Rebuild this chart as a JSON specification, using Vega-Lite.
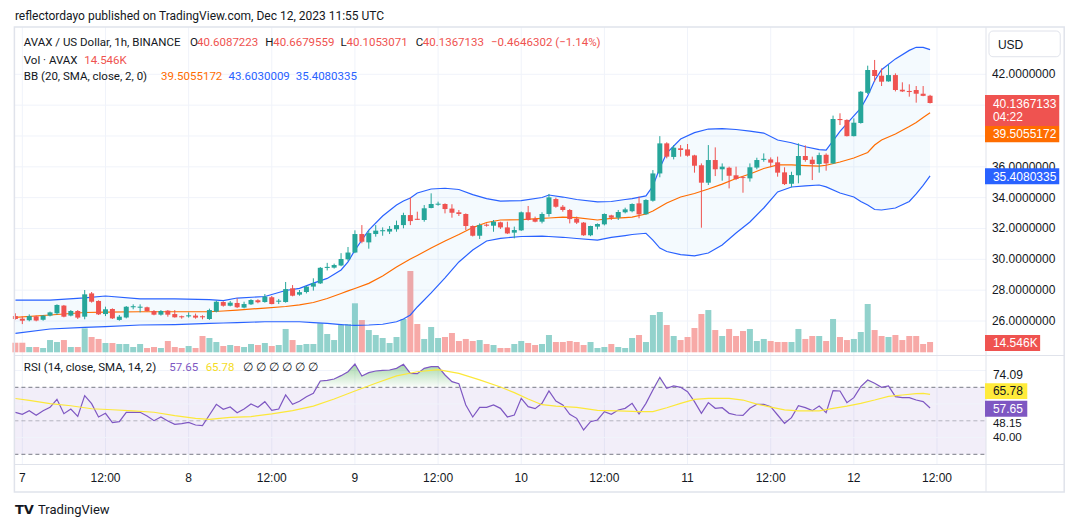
{
  "$schema": "https://vega.github.io/schema/vega-lite/v6.json",
  "width": 991,
  "height": 464,
  "padding": {"left": 0, "top": 0, "right": 89, "bottom": 63},
  "autosize": {"type": "none"},
  "background": "#ffffff",
  "config": {"view": {"stroke": null}, "font": "Liberation Sans"},
  "data": {"values": [{}]},
  "datasets": {
    "bars": [
      {"t":"2023-12-06T23:00Z","o":26.32,"h":26.5,"l":26.09,"c":26.13,"v":13.5},
      {"t":"2023-12-07T00:00Z","o":26.15,"h":26.3,"l":25.8,"c":26.02,"v":13.5},
      {"t":"2023-12-07T01:00Z","o":26.05,"h":26.43,"l":25.98,"c":26.32,"v":7.5},
      {"t":"2023-12-07T02:00Z","o":26.3,"h":26.35,"l":25.98,"c":26.03,"v":7.5},
      {"t":"2023-12-07T03:00Z","o":26.08,"h":26.39,"l":26.02,"c":26.35,"v":6.1},
      {"t":"2023-12-07T04:00Z","o":26.35,"h":26.61,"l":26.3,"c":26.56,"v":17.3},
      {"t":"2023-12-07T05:00Z","o":26.5,"h":27.08,"l":26.4,"c":27.04,"v":14.5},
      {"t":"2023-12-07T06:00Z","o":27.0,"h":27.04,"l":26.24,"c":26.28,"v":17.3},
      {"t":"2023-12-07T07:00Z","o":26.35,"h":26.71,"l":26.3,"c":26.65,"v":7.5},
      {"t":"2023-12-07T08:00Z","o":26.65,"h":26.71,"l":26.13,"c":26.22,"v":7.5},
      {"t":"2023-12-07T09:00Z","o":26.28,"h":28.01,"l":26.11,"c":27.73,"v":33.8},
      {"t":"2023-12-07T10:00Z","o":27.79,"h":27.88,"l":27.19,"c":27.25,"v":21.6},
      {"t":"2023-12-07T11:00Z","o":27.3,"h":27.34,"l":26.39,"c":26.43,"v":18.8},
      {"t":"2023-12-07T12:00Z","o":26.45,"h":26.93,"l":26.32,"c":26.76,"v":13.1},
      {"t":"2023-12-07T13:00Z","o":26.78,"h":26.82,"l":26.13,"c":26.17,"v":13.1},
      {"t":"2023-12-07T14:00Z","o":26.07,"h":26.39,"l":26.02,"c":26.28,"v":11.7},
      {"t":"2023-12-07T15:00Z","o":26.22,"h":26.97,"l":26.17,"c":26.93,"v":11.7},
      {"t":"2023-12-07T16:00Z","o":26.89,"h":27.08,"l":26.76,"c":26.96,"v":7.5},
      {"t":"2023-12-07T17:00Z","o":26.86,"h":27.08,"l":26.56,"c":26.93,"v":11.7},
      {"t":"2023-12-07T18:00Z","o":26.89,"h":26.93,"l":26.61,"c":26.65,"v":6.1},
      {"t":"2023-12-07T19:00Z","o":26.65,"h":26.71,"l":26.37,"c":26.41,"v":7.5},
      {"t":"2023-12-07T20:00Z","o":26.41,"h":26.71,"l":26.35,"c":26.65,"v":6.1},
      {"t":"2023-12-07T21:00Z","o":26.67,"h":26.71,"l":26.28,"c":26.41,"v":15.9},
      {"t":"2023-12-07T22:00Z","o":26.45,"h":26.71,"l":26.22,"c":26.24,"v":7.5},
      {"t":"2023-12-07T23:00Z","o":26.31,"h":26.35,"l":26.15,"c":26.24,"v":6.1},
      {"t":"2023-12-08T00:00Z","o":26.3,"h":26.56,"l":26.22,"c":26.37,"v":8.9},
      {"t":"2023-12-08T01:00Z","o":26.35,"h":26.48,"l":26.15,"c":26.22,"v":6.1},
      {"t":"2023-12-08T02:00Z","o":26.31,"h":26.37,"l":26.11,"c":26.24,"v":23.0},
      {"t":"2023-12-08T03:00Z","o":26.13,"h":26.8,"l":26.07,"c":26.71,"v":20.2},
      {"t":"2023-12-08T04:00Z","o":26.61,"h":27.32,"l":26.56,"c":27.25,"v":14.5},
      {"t":"2023-12-08T05:00Z","o":27.23,"h":27.28,"l":26.93,"c":26.99,"v":8.9},
      {"t":"2023-12-08T06:00Z","o":26.99,"h":27.3,"l":26.95,"c":27.19,"v":10.3},
      {"t":"2023-12-08T07:00Z","o":27.17,"h":27.47,"l":26.84,"c":26.89,"v":8.9},
      {"t":"2023-12-08T08:00Z","o":26.87,"h":27.25,"l":26.82,"c":27.1,"v":7.5},
      {"t":"2023-12-08T09:00Z","o":27.08,"h":27.41,"l":27.04,"c":27.36,"v":11.7},
      {"t":"2023-12-08T10:00Z","o":27.34,"h":27.41,"l":27.15,"c":27.21,"v":10.3},
      {"t":"2023-12-08T11:00Z","o":27.23,"h":27.75,"l":27.19,"c":27.58,"v":13.1},
      {"t":"2023-12-08T12:00Z","o":27.54,"h":27.62,"l":27.08,"c":27.1,"v":8.9},
      {"t":"2023-12-08T13:00Z","o":27.25,"h":27.43,"l":27.1,"c":27.32,"v":10.3},
      {"t":"2023-12-08T14:00Z","o":27.23,"h":28.53,"l":27.19,"c":28.07,"v":32.9},
      {"t":"2023-12-08T15:00Z","o":28.12,"h":28.33,"l":27.6,"c":27.64,"v":17.3},
      {"t":"2023-12-08T16:00Z","o":27.71,"h":28.01,"l":27.64,"c":27.87,"v":10.3},
      {"t":"2023-12-08T17:00Z","o":27.88,"h":28.29,"l":27.79,"c":28.23,"v":11.7},
      {"t":"2023-12-08T18:00Z","o":28.23,"h":28.77,"l":27.97,"c":28.45,"v":11.7},
      {"t":"2023-12-08T19:00Z","o":28.44,"h":29.5,"l":28.4,"c":29.45,"v":41.0},
      {"t":"2023-12-08T20:00Z","o":29.44,"h":29.77,"l":29.28,"c":29.51,"v":25.8},
      {"t":"2023-12-08T21:00Z","o":29.46,"h":29.72,"l":29.4,"c":29.63,"v":17.3},
      {"t":"2023-12-08T22:00Z","o":29.6,"h":30.4,"l":29.55,"c":30.02,"v":38.5},
      {"t":"2023-12-08T23:00Z","o":30.0,"h":30.8,"l":29.9,"c":30.44,"v":39.9},
      {"t":"2023-12-09T00:00Z","o":30.44,"h":31.88,"l":30.4,"c":31.64,"v":69.1},
      {"t":"2023-12-09T01:00Z","o":31.64,"h":32.22,"l":31.04,"c":31.14,"v":45.5},
      {"t":"2023-12-09T02:00Z","o":31.1,"h":31.9,"l":30.69,"c":31.7,"v":31.4},
      {"t":"2023-12-09T03:00Z","o":31.64,"h":32.22,"l":31.47,"c":31.86,"v":24.4},
      {"t":"2023-12-09T04:00Z","o":31.82,"h":32.07,"l":31.53,"c":31.89,"v":20.2},
      {"t":"2023-12-09T05:00Z","o":31.8,"h":32.16,"l":31.64,"c":31.97,"v":13.1},
      {"t":"2023-12-09T06:00Z","o":31.95,"h":32.51,"l":31.79,"c":32.22,"v":21.6},
      {"t":"2023-12-09T07:00Z","o":32.22,"h":33.02,"l":32.01,"c":32.87,"v":47.0},
      {"t":"2023-12-09T08:00Z","o":32.87,"h":34.02,"l":32.22,"c":32.48,"v":114.6},
      {"t":"2023-12-09T09:00Z","o":32.63,"h":33.09,"l":32.55,"c":32.56,"v":39.9},
      {"t":"2023-12-09T10:00Z","o":32.55,"h":33.52,"l":32.44,"c":33.31,"v":18.8},
      {"t":"2023-12-09T11:00Z","o":33.33,"h":34.28,"l":33.31,"c":33.59,"v":35.7},
      {"t":"2023-12-09T12:00Z","o":33.54,"h":33.74,"l":33.48,"c":33.61,"v":20.2},
      {"t":"2023-12-09T13:00Z","o":33.59,"h":33.63,"l":32.98,"c":33.26,"v":21.6},
      {"t":"2023-12-09T14:00Z","o":33.29,"h":33.57,"l":32.7,"c":33.02,"v":27.2},
      {"t":"2023-12-09T15:00Z","o":33.05,"h":33.2,"l":32.81,"c":32.94,"v":15.9},
      {"t":"2023-12-09T16:00Z","o":32.94,"h":32.98,"l":31.9,"c":32.16,"v":18.8},
      {"t":"2023-12-09T17:00Z","o":32.16,"h":32.2,"l":31.48,"c":31.53,"v":15.9},
      {"t":"2023-12-09T18:00Z","o":31.53,"h":32.33,"l":31.32,"c":32.22,"v":17.3},
      {"t":"2023-12-09T19:00Z","o":32.25,"h":32.33,"l":32.12,"c":32.18,"v":11.7},
      {"t":"2023-12-09T20:00Z","o":32.18,"h":32.55,"l":31.79,"c":32.44,"v":10.3},
      {"t":"2023-12-09T21:00Z","o":32.4,"h":32.44,"l":31.97,"c":32.07,"v":6.1},
      {"t":"2023-12-09T22:00Z","o":32.07,"h":32.44,"l":31.64,"c":31.68,"v":6.1},
      {"t":"2023-12-09T23:00Z","o":31.73,"h":32.12,"l":31.36,"c":31.9,"v":11.7},
      {"t":"2023-12-10T00:00Z","o":31.88,"h":33.1,"l":31.84,"c":33.05,"v":15.9},
      {"t":"2023-12-10T01:00Z","o":33.05,"h":33.46,"l":32.51,"c":32.55,"v":13.1},
      {"t":"2023-12-10T02:00Z","o":32.62,"h":32.77,"l":32.4,"c":32.44,"v":10.3},
      {"t":"2023-12-10T03:00Z","o":32.44,"h":33.05,"l":32.33,"c":32.94,"v":11.7},
      {"t":"2023-12-10T04:00Z","o":32.94,"h":34.24,"l":32.77,"c":34.02,"v":24.4},
      {"t":"2023-12-10T05:00Z","o":33.91,"h":34.0,"l":33.35,"c":33.41,"v":14.5},
      {"t":"2023-12-10T06:00Z","o":33.41,"h":33.52,"l":33.09,"c":33.2,"v":14.5},
      {"t":"2023-12-10T07:00Z","o":33.2,"h":33.26,"l":32.33,"c":32.61,"v":15.9},
      {"t":"2023-12-10T08:00Z","o":32.64,"h":32.77,"l":32.29,"c":32.38,"v":14.5},
      {"t":"2023-12-10T09:00Z","o":32.38,"h":32.42,"l":31.52,"c":31.56,"v":10.3},
      {"t":"2023-12-10T10:00Z","o":31.56,"h":32.18,"l":31.5,"c":32.16,"v":14.5},
      {"t":"2023-12-10T11:00Z","o":32.12,"h":32.33,"l":31.94,"c":32.29,"v":6.1},
      {"t":"2023-12-10T12:00Z","o":32.27,"h":32.98,"l":32.2,"c":32.94,"v":7.5},
      {"t":"2023-12-10T13:00Z","o":32.85,"h":32.89,"l":32.55,"c":32.7,"v":11.7},
      {"t":"2023-12-10T14:00Z","o":32.7,"h":33.2,"l":32.55,"c":33.07,"v":7.5},
      {"t":"2023-12-10T15:00Z","o":33.05,"h":33.35,"l":32.98,"c":33.24,"v":6.1},
      {"t":"2023-12-10T16:00Z","o":33.12,"h":33.63,"l":33.05,"c":33.59,"v":20.2},
      {"t":"2023-12-10T17:00Z","o":33.63,"h":34.06,"l":32.66,"c":32.92,"v":24.4},
      {"t":"2023-12-10T18:00Z","o":32.92,"h":33.9,"l":32.9,"c":33.85,"v":14.5},
      {"t":"2023-12-10T19:00Z","o":33.8,"h":35.79,"l":33.74,"c":35.57,"v":52.6},
      {"t":"2023-12-10T20:00Z","o":35.57,"h":37.99,"l":35.32,"c":37.52,"v":56.8},
      {"t":"2023-12-10T21:00Z","o":37.52,"h":37.59,"l":36.55,"c":36.66,"v":38.5},
      {"t":"2023-12-10T22:00Z","o":36.64,"h":37.41,"l":36.48,"c":37.24,"v":23.0},
      {"t":"2023-12-10T23:00Z","o":37.2,"h":37.41,"l":36.66,"c":37.09,"v":17.3},
      {"t":"2023-12-11T00:00Z","o":37.13,"h":37.48,"l":36.66,"c":36.72,"v":21.6},
      {"t":"2023-12-11T01:00Z","o":36.74,"h":36.78,"l":35.62,"c":36.07,"v":34.3},
      {"t":"2023-12-11T02:00Z","o":36.1,"h":36.22,"l":32.05,"c":34.97,"v":54.0},
      {"t":"2023-12-11T03:00Z","o":34.97,"h":37.41,"l":34.82,"c":36.44,"v":59.6},
      {"t":"2023-12-11T04:00Z","o":36.44,"h":37.26,"l":35.4,"c":35.84,"v":31.4},
      {"t":"2023-12-11T05:00Z","o":35.84,"h":36.22,"l":35.1,"c":36.01,"v":23.0},
      {"t":"2023-12-11T06:00Z","o":35.94,"h":36.01,"l":34.6,"c":35.42,"v":32.9},
      {"t":"2023-12-11T07:00Z","o":35.45,"h":36.01,"l":35.14,"c":35.21,"v":23.0},
      {"t":"2023-12-11T08:00Z","o":35.33,"h":35.4,"l":34.32,"c":35.27,"v":30.0},
      {"t":"2023-12-11T09:00Z","o":35.25,"h":36.22,"l":35.04,"c":35.97,"v":32.9},
      {"t":"2023-12-11T10:00Z","o":35.95,"h":36.59,"l":35.84,"c":36.44,"v":15.9},
      {"t":"2023-12-11T11:00Z","o":36.45,"h":36.87,"l":36.33,"c":36.52,"v":18.8},
      {"t":"2023-12-11T12:00Z","o":36.48,"h":36.61,"l":35.97,"c":36.27,"v":15.9},
      {"t":"2023-12-11T13:00Z","o":36.29,"h":36.66,"l":35.36,"c":35.62,"v":14.5},
      {"t":"2023-12-11T14:00Z","o":35.64,"h":35.97,"l":34.82,"c":34.88,"v":14.5},
      {"t":"2023-12-11T15:00Z","o":34.9,"h":35.68,"l":34.67,"c":35.47,"v":14.5},
      {"t":"2023-12-11T16:00Z","o":35.45,"h":37.52,"l":34.93,"c":36.7,"v":32.9},
      {"t":"2023-12-11T17:00Z","o":36.7,"h":37.39,"l":36.33,"c":36.44,"v":18.8},
      {"t":"2023-12-11T18:00Z","o":36.46,"h":36.66,"l":35.14,"c":36.18,"v":23.0},
      {"t":"2023-12-11T19:00Z","o":36.18,"h":36.92,"l":35.62,"c":36.76,"v":23.0},
      {"t":"2023-12-11T20:00Z","o":36.78,"h":36.87,"l":35.75,"c":36.22,"v":15.9},
      {"t":"2023-12-11T21:00Z","o":36.22,"h":39.32,"l":36.18,"c":39.1,"v":47.0},
      {"t":"2023-12-11T22:00Z","o":39.1,"h":39.47,"l":38.71,"c":39.03,"v":21.6},
      {"t":"2023-12-11T23:00Z","o":39.04,"h":39.08,"l":37.97,"c":37.99,"v":17.3},
      {"t":"2023-12-12T00:00Z","o":37.99,"h":39.14,"l":37.97,"c":38.86,"v":18.8},
      {"t":"2023-12-12T01:00Z","o":38.84,"h":40.91,"l":38.8,"c":40.87,"v":28.6},
      {"t":"2023-12-12T02:00Z","o":40.8,"h":42.56,"l":40.72,"c":42.28,"v":68.1},
      {"t":"2023-12-12T03:00Z","o":42.28,"h":42.93,"l":41.52,"c":41.89,"v":31.4},
      {"t":"2023-12-12T04:00Z","o":41.91,"h":42.38,"l":41.24,"c":41.52,"v":23.0},
      {"t":"2023-12-12T05:00Z","o":41.54,"h":42.6,"l":41.52,"c":41.95,"v":21.6},
      {"t":"2023-12-12T06:00Z","o":41.95,"h":42.06,"l":40.89,"c":40.98,"v":24.4},
      {"t":"2023-12-12T07:00Z","o":41.0,"h":41.48,"l":40.85,"c":40.89,"v":17.3},
      {"t":"2023-12-12T08:00Z","o":40.92,"h":41.35,"l":40.55,"c":40.85,"v":23.0},
      {"t":"2023-12-12T09:00Z","o":40.98,"h":41.24,"l":40.16,"c":40.74,"v":23.0},
      {"t":"2023-12-12T10:00Z","o":40.74,"h":41.24,"l":40.58,"c":40.6013435,"v":11.7},
      {"t":"2023-12-12T11:00Z","o":40.6087223,"h":40.6679559,"l":40.1053071,"c":40.1367133,"v":14.546}
    ],
    "bb": [
      {"t":"2023-12-06T23:00Z","up":27.36,"mid":26.24,"lo":25.2},
      {"t":"2023-12-07T04:00Z","up":27.36,"mid":26.39,"lo":25.48},
      {"t":"2023-12-07T09:00Z","up":27.5,"mid":26.55,"lo":25.59},
      {"t":"2023-12-07T12:00Z","up":27.62,"mid":26.58,"lo":25.63},
      {"t":"2023-12-07T17:00Z","up":27.43,"mid":26.6,"lo":25.74},
      {"t":"2023-12-07T22:00Z","up":27.43,"mid":26.6,"lo":25.77},
      {"t":"2023-12-08T03:00Z","up":27.39,"mid":26.6,"lo":25.84},
      {"t":"2023-12-08T05:00Z","up":27.32,"mid":26.65,"lo":25.87},
      {"t":"2023-12-08T07:00Z","up":27.49,"mid":26.71,"lo":25.9},
      {"t":"2023-12-08T11:00Z","up":27.59,"mid":26.84,"lo":25.95},
      {"t":"2023-12-08T14:00Z","up":27.98,"mid":26.94,"lo":25.95},
      {"t":"2023-12-08T16:00Z","up":28.12,"mid":27.04,"lo":25.95},
      {"t":"2023-12-08T18:00Z","up":28.46,"mid":27.2,"lo":25.9},
      {"t":"2023-12-08T20:00Z","up":28.76,"mid":27.46,"lo":25.85},
      {"t":"2023-12-08T22:00Z","up":29.31,"mid":27.78,"lo":25.77},
      {"t":"2023-12-08T23:00Z","up":29.83,"mid":27.95,"lo":25.74},
      {"t":"2023-12-09T00:00Z","up":30.6,"mid":28.11,"lo":25.72},
      {"t":"2023-12-09T02:00Z","up":31.9,"mid":28.44,"lo":25.74},
      {"t":"2023-12-09T04:00Z","up":32.81,"mid":28.92,"lo":25.79},
      {"t":"2023-12-09T06:00Z","up":33.52,"mid":29.5,"lo":25.95},
      {"t":"2023-12-09T07:00Z","up":33.78,"mid":29.76,"lo":26.13},
      {"t":"2023-12-09T08:00Z","up":33.98,"mid":30.02,"lo":26.39},
      {"t":"2023-12-09T09:00Z","up":34.3,"mid":30.25,"lo":26.91},
      {"t":"2023-12-09T11:00Z","up":34.56,"mid":30.73,"lo":27.82},
      {"t":"2023-12-09T13:00Z","up":34.61,"mid":31.19,"lo":28.8},
      {"t":"2023-12-09T15:00Z","up":34.53,"mid":31.61,"lo":29.83},
      {"t":"2023-12-09T17:00Z","up":34.2,"mid":32.06,"lo":30.6},
      {"t":"2023-12-09T19:00Z","up":33.94,"mid":32.39,"lo":31.19},
      {"t":"2023-12-09T21:00Z","up":33.78,"mid":32.55,"lo":31.36},
      {"t":"2023-12-10T00:00Z","up":33.81,"mid":32.58,"lo":31.48},
      {"t":"2023-12-10T03:00Z","up":34.01,"mid":32.65,"lo":31.51},
      {"t":"2023-12-10T04:00Z","up":34.17,"mid":32.68,"lo":31.48},
      {"t":"2023-12-10T06:00Z","up":34.04,"mid":32.74,"lo":31.43},
      {"t":"2023-12-10T08:00Z","up":33.88,"mid":32.71,"lo":31.35},
      {"t":"2023-12-10T11:00Z","up":33.72,"mid":32.55,"lo":31.25},
      {"t":"2023-12-10T13:00Z","up":33.75,"mid":32.65,"lo":31.42},
      {"t":"2023-12-10T15:00Z","up":33.88,"mid":32.71,"lo":31.54},
      {"t":"2023-12-10T16:00Z","up":33.94,"mid":32.74,"lo":31.61},
      {"t":"2023-12-10T18:00Z","up":34.11,"mid":32.94,"lo":31.69},
      {"t":"2023-12-10T19:00Z","up":34.75,"mid":33.13,"lo":31.25},
      {"t":"2023-12-10T20:00Z","up":35.92,"mid":33.39,"lo":30.73},
      {"t":"2023-12-10T21:00Z","up":36.89,"mid":33.65,"lo":30.51},
      {"t":"2023-12-10T23:00Z","up":37.8,"mid":34.04,"lo":30.31},
      {"t":"2023-12-11T01:00Z","up":38.22,"mid":34.27,"lo":30.23},
      {"t":"2023-12-11T03:00Z","up":38.45,"mid":34.56,"lo":30.41},
      {"t":"2023-12-11T05:00Z","up":38.48,"mid":34.88,"lo":30.93},
      {"t":"2023-12-11T07:00Z","up":38.42,"mid":35.24,"lo":31.71},
      {"t":"2023-12-11T09:00Z","up":38.32,"mid":35.53,"lo":32.42},
      {"t":"2023-12-11T11:00Z","up":38.19,"mid":35.89,"lo":33.33},
      {"t":"2023-12-11T13:00Z","up":37.74,"mid":36.12,"lo":34.37},
      {"t":"2023-12-11T15:00Z","up":37.56,"mid":36.12,"lo":34.69},
      {"t":"2023-12-11T17:00Z","up":37.3,"mid":36.08,"lo":34.76},
      {"t":"2023-12-11T19:00Z","up":37.12,"mid":36.05,"lo":34.82},
      {"t":"2023-12-11T20:00Z","up":37.09,"mid":36.1,"lo":34.7},
      {"t":"2023-12-11T22:00Z","up":38.3,"mid":36.31,"lo":34.3},
      {"t":"2023-12-12T00:00Z","up":39.3,"mid":36.57,"lo":34.04},
      {"t":"2023-12-12T01:00Z","up":39.8,"mid":36.75,"lo":33.75},
      {"t":"2023-12-12T02:00Z","up":40.6,"mid":36.93,"lo":33.52},
      {"t":"2023-12-12T03:00Z","up":41.6,"mid":37.41,"lo":33.23},
      {"t":"2023-12-12T04:00Z","up":42.3,"mid":37.74,"lo":33.2},
      {"t":"2023-12-12T06:00Z","up":43.0,"mid":38.13,"lo":33.33},
      {"t":"2023-12-12T08:00Z","up":43.55,"mid":38.61,"lo":33.75},
      {"t":"2023-12-12T09:00Z","up":43.75,"mid":38.87,"lo":34.24},
      {"t":"2023-12-12T10:00Z","up":43.75,"mid":39.2,"lo":34.79},
      {"t":"2023-12-12T11:00Z","up":43.6030009,"mid":39.5055172,"lo":35.4080335}
    ],
    "rsi": [
      {"t":"2023-12-06T23:00Z","r":55.06},{"t":"2023-12-07T00:00Z","r":53.86},{"t":"2023-12-07T01:00Z","r":56.05},
      {"t":"2023-12-07T02:00Z","r":53.26},{"t":"2023-12-07T03:00Z","r":56.05},{"t":"2023-12-07T04:00Z","r":58.04},
      {"t":"2023-12-07T05:00Z","r":62.82},{"t":"2023-12-07T06:00Z","r":54.26},{"t":"2023-12-07T07:00Z","r":57.05},
      {"t":"2023-12-07T08:00Z","r":52.67},{"t":"2023-12-07T09:00Z","r":65.01},{"t":"2023-12-07T10:00Z","r":60.23},
      {"t":"2023-12-07T11:00Z","r":52.27},{"t":"2023-12-07T12:00Z","r":54.46},{"t":"2023-12-07T13:00Z","r":48.88},
      {"t":"2023-12-07T14:00Z","r":49.48},{"t":"2023-12-07T15:00Z","r":55.06},{"t":"2023-12-07T16:00Z","r":55.06},
      {"t":"2023-12-07T17:00Z","r":55.06},{"t":"2023-12-07T18:00Z","r":52.87},{"t":"2023-12-07T19:00Z","r":50.08},
      {"t":"2023-12-07T20:00Z","r":52.27},{"t":"2023-12-07T21:00Z","r":49.88},{"t":"2023-12-07T22:00Z","r":47.89},
      {"t":"2023-12-07T23:00Z","r":48.29},{"t":"2023-12-08T00:00Z","r":49.08},{"t":"2023-12-08T01:00Z","r":47.49},
      {"t":"2023-12-08T02:00Z","r":47.1},{"t":"2023-12-08T03:00Z","r":53.46},{"t":"2023-12-08T04:00Z","r":59.83},
      {"t":"2023-12-08T05:00Z","r":56.85},{"t":"2023-12-08T06:00Z","r":58.24},{"t":"2023-12-08T07:00Z","r":54.86},
      {"t":"2023-12-08T08:00Z","r":57.05},{"t":"2023-12-08T09:00Z","r":60.03},{"t":"2023-12-08T10:00Z","r":58.04},
      {"t":"2023-12-08T11:00Z","r":61.42},{"t":"2023-12-08T12:00Z","r":56.25},{"t":"2023-12-08T13:00Z","r":57.05},
      {"t":"2023-12-08T14:00Z","r":65.4},{"t":"2023-12-08T15:00Z","r":59.83},{"t":"2023-12-08T16:00Z","r":61.62},
      {"t":"2023-12-08T17:00Z","r":64.41},{"t":"2023-12-08T18:00Z","r":66.4},{"t":"2023-12-08T19:00Z","r":73.76},
      {"t":"2023-12-08T20:00Z","r":74.16},{"t":"2023-12-08T21:00Z","r":74.96},{"t":"2023-12-08T22:00Z","r":76.95},
      {"t":"2023-12-08T23:00Z","r":79.33},{"t":"2023-12-09T00:00Z","r":83.91},{"t":"2023-12-09T01:00Z","r":76.75},
      {"t":"2023-12-09T02:00Z","r":78.74},{"t":"2023-12-09T03:00Z","r":79.73},{"t":"2023-12-09T04:00Z","r":80.13},
      {"t":"2023-12-09T05:00Z","r":80.33},{"t":"2023-12-09T06:00Z","r":81.32},{"t":"2023-12-09T07:00Z","r":83.71},
      {"t":"2023-12-09T08:00Z","r":78.34},{"t":"2023-12-09T09:00Z","r":78.14},{"t":"2023-12-09T10:00Z","r":81.32},
      {"t":"2023-12-09T11:00Z","r":82.32},{"t":"2023-12-09T12:00Z","r":82.32},{"t":"2023-12-09T13:00Z","r":77.34},
      {"t":"2023-12-09T14:00Z","r":73.36},{"t":"2023-12-09T15:00Z","r":72.17},{"t":"2023-12-09T16:00Z","r":59.43},
      {"t":"2023-12-09T17:00Z","r":52.27},{"t":"2023-12-09T18:00Z","r":58.04},{"t":"2023-12-09T19:00Z","r":58.04},
      {"t":"2023-12-09T20:00Z","r":59.43},{"t":"2023-12-09T21:00Z","r":57.44},{"t":"2023-12-09T22:00Z","r":52.27},
      {"t":"2023-12-09T23:00Z","r":53.46},{"t":"2023-12-10T00:00Z","r":63.41},{"t":"2023-12-10T01:00Z","r":58.44},
      {"t":"2023-12-10T02:00Z","r":57.25},{"t":"2023-12-10T03:00Z","r":60.43},{"t":"2023-12-10T04:00Z","r":67.79},
      {"t":"2023-12-10T05:00Z","r":61.82},{"t":"2023-12-10T06:00Z","r":59.43},{"t":"2023-12-10T07:00Z","r":53.86},
      {"t":"2023-12-10T08:00Z","r":51.47},{"t":"2023-12-10T09:00Z","r":44.51},{"t":"2023-12-10T10:00Z","r":49.48},
      {"t":"2023-12-10T11:00Z","r":50.48},{"t":"2023-12-10T12:00Z","r":55.45},{"t":"2023-12-10T13:00Z","r":53.86},
      {"t":"2023-12-10T14:00Z","r":56.45},{"t":"2023-12-10T15:00Z","r":57.44},{"t":"2023-12-10T16:00Z","r":60.43},
      {"t":"2023-12-10T17:00Z","r":54.06},{"t":"2023-12-10T18:00Z","r":60.43},{"t":"2023-12-10T19:00Z","r":68.39},
      {"t":"2023-12-10T20:00Z","r":75.95},{"t":"2023-12-10T21:00Z","r":69.38},{"t":"2023-12-10T22:00Z","r":70.78},
      {"t":"2023-12-10T23:00Z","r":69.98},{"t":"2023-12-11T00:00Z","r":67.39},{"t":"2023-12-11T01:00Z","r":61.42},
      {"t":"2023-12-11T02:00Z","r":54.46},{"t":"2023-12-11T03:00Z","r":60.83},{"t":"2023-12-11T04:00Z","r":57.44},
      {"t":"2023-12-11T05:00Z","r":57.84},{"t":"2023-12-11T06:00Z","r":54.46},{"t":"2023-12-11T07:00Z","r":53.46},
      {"t":"2023-12-11T08:00Z","r":53.26},{"t":"2023-12-11T09:00Z","r":57.44},{"t":"2023-12-11T10:00Z","r":59.83},
      {"t":"2023-12-11T11:00Z","r":59.83},{"t":"2023-12-11T12:00Z","r":58.44},{"t":"2023-12-11T13:00Z","r":53.46},
      {"t":"2023-12-11T14:00Z","r":48.49},{"t":"2023-12-11T15:00Z","r":51.87},{"t":"2023-12-11T16:00Z","r":59.04},
      {"t":"2023-12-11T17:00Z","r":57.84},{"t":"2023-12-11T18:00Z","r":56.05},{"t":"2023-12-11T19:00Z","r":58.84},
      {"t":"2023-12-11T20:00Z","r":54.86},{"t":"2023-12-11T21:00Z","r":67.99},{"t":"2023-12-11T22:00Z","r":67.79},
      {"t":"2023-12-11T23:00Z","r":60.83},{"t":"2023-12-12T00:00Z","r":63.81},{"t":"2023-12-12T01:00Z","r":70.38},
      {"t":"2023-12-12T02:00Z","r":74.36},{"t":"2023-12-12T03:00Z","r":72.37},{"t":"2023-12-12T04:00Z","r":69.98},
      {"t":"2023-12-12T05:00Z","r":70.78},{"t":"2023-12-12T06:00Z","r":64.41},{"t":"2023-12-12T07:00Z","r":63.81},
      {"t":"2023-12-12T08:00Z","r":63.81},{"t":"2023-12-12T09:00Z","r":62.42},{"t":"2023-12-12T10:00Z","r":61.42},
      {"t":"2023-12-12T11:00Z","r":57.65}
    ],
    "rsima": [
      {"t":"2023-12-06T23:00Z","m":63.3},{"t":"2023-12-07T01:00Z","m":62.2},{"t":"2023-12-07T04:00Z","m":60.2},
      {"t":"2023-12-07T07:00Z","m":59.0},{"t":"2023-12-07T10:00Z","m":57.2},{"t":"2023-12-07T13:00Z","m":56.6},
      {"t":"2023-12-07T16:00Z","m":55.9},{"t":"2023-12-07T19:00Z","m":55.1},{"t":"2023-12-07T22:00Z","m":53.1},
      {"t":"2023-12-08T01:00Z","m":51.5},{"t":"2023-12-08T03:00Z","m":50.9},{"t":"2023-12-08T06:00Z","m":52.1},
      {"t":"2023-12-08T09:00Z","m":52.5},{"t":"2023-12-08T12:00Z","m":54.1},{"t":"2023-12-08T15:00Z","m":56.1},
      {"t":"2023-12-08T18:00Z","m":58.8},{"t":"2023-12-08T21:00Z","m":63.0},{"t":"2023-12-09T00:00Z","m":67.8},
      {"t":"2023-12-09T03:00Z","m":72.4},{"t":"2023-12-09T06:00Z","m":76.8},{"t":"2023-12-09T09:00Z","m":79.3},
      {"t":"2023-12-09T12:00Z","m":80.5},{"t":"2023-12-09T15:00Z","m":78.3},{"t":"2023-12-09T18:00Z","m":74.4},
      {"t":"2023-12-09T21:00Z","m":70.2},{"t":"2023-12-09T23:00Z","m":66.8},{"t":"2023-12-10T01:00Z","m":63.0},
      {"t":"2023-12-10T03:00Z","m":59.6},{"t":"2023-12-10T05:00Z","m":58.8},{"t":"2023-12-10T08:00Z","m":58.0},
      {"t":"2023-12-10T11:00Z","m":56.2},{"t":"2023-12-10T14:00Z","m":55.9},{"t":"2023-12-10T17:00Z","m":55.5},
      {"t":"2023-12-10T19:00Z","m":55.5},{"t":"2023-12-10T21:00Z","m":57.8},{"t":"2023-12-10T23:00Z","m":60.4},
      {"t":"2023-12-11T01:00Z","m":62.8},{"t":"2023-12-11T03:00Z","m":63.4},{"t":"2023-12-11T06:00Z","m":63.4},
      {"t":"2023-12-11T08:00Z","m":62.4},{"t":"2023-12-11T10:00Z","m":60.0},{"t":"2023-12-11T12:00Z","m":58.2},
      {"t":"2023-12-11T14:00Z","m":56.5},{"t":"2023-12-11T16:00Z","m":55.9},{"t":"2023-12-11T19:00Z","m":55.9},
      {"t":"2023-12-11T21:00Z","m":57.4},{"t":"2023-12-11T23:00Z","m":58.8},{"t":"2023-12-12T01:00Z","m":60.4},
      {"t":"2023-12-12T03:00Z","m":62.4},{"t":"2023-12-12T05:00Z","m":64.6},{"t":"2023-12-12T07:00Z","m":65.4},
      {"t":"2023-12-12T09:00Z","m":66.2},{"t":"2023-12-12T10:00Z","m":66.4},{"t":"2023-12-12T11:00Z","m":65.78}
    ],
    "ticks": [
      {"g":1701907200000,"lab":"7"},{"g":1701950400000,"lab":"12:00"},{"g":1701993600000,"lab":"8"},{"g":1702036800000,"lab":"12:00"},
      {"g":1702080000000,"lab":"9"},{"g":1702123200000,"lab":"12:00"},{"g":1702166400000,"lab":"10"},{"g":1702209600000,"lab":"12:00"},
      {"g":1702252800000,"lab":"11"},{"g":1702296000000,"lab":"12:00"},{"g":1702339200000,"lab":"12"},{"g":1702382400000,"lab":"12:00"}
    ],
    "pricegrid": [{"p":26},{"p":28},{"p":30},{"p":32},{"p":34},{"p":36},{"p":38},{"p":40},{"p":42}]
  },
  "layer": [
    {
      "layer": [
        {
          "data": {"name": "pricegrid"},
          "mark": {"type": "rule", "color": "#f0f3fa", "strokeWidth": 1},
          "encoding": {
            "x": {"datum": 1701903085714, "type": "temporal", "scale": {"type": "utc", "domain": [1701898200000, 1702407857143]}, "axis": null},
            "x2": {"datum": 1702407857143},
            "y": {"field": "p", "type": "quantitative", "scale": {"domain": [26, 42], "range": [321, 74.3], "nice": false, "zero": false}, "axis": null}
          }
        },
        {
          "data": {"name": "ticks"},
          "mark": {"type": "rule", "color": "#f0f3fa", "strokeWidth": 1},
          "encoding": {
            "x": {"field": "g", "type": "temporal", "scale": {"type": "utc", "domain": [1701898200000, 1702407857143]}, "axis": null},
            "y": {"datum": 45.066, "type": "quantitative", "scale": {"domain": [26, 42], "range": [321, 74.3], "nice": false, "zero": false}, "axis": null},
            "y2": {"datum": 16.694}
          }
        }
      ]
    },
    {
      "layer": [
        {
          "data": {"name": "bars"},
          "mark": {"type": "bar", "width": 6},
          "encoding": {
            "x": {"field": "t", "type": "temporal", "scale": {"type": "utc", "domain": [1701898200000, 1702407857143]}, "axis": null},
            "y": {"field": "v", "type": "quantitative", "scale": {"domain": [0, 100], "range": [352.3, 281.38], "nice": false}, "axis": null},
            "y2": {"datum": 0},
            "color": {"condition": {"test": "datum.c >= datum.o", "value": "#92d2cc"}, "value": "#f7a9a7"}
          }
        }
      ]
    },
    {
      "layer": [
        {
          "data": {"name": "bb"},
          "mark": {"type": "area", "color": "#2196f3", "opacity": 0.05},
          "encoding": {
            "x": {"field": "t", "type": "temporal", "scale": {"type": "utc", "domain": [1701898200000, 1702407857143]}, "axis": null},
            "y": {"field": "up", "type": "quantitative", "scale": {"domain": [26, 42], "range": [321, 74.3], "nice": false, "zero": false}, "axis": null},
            "y2": {"field": "lo"}
          }
        },
        {
          "data": {"name": "bb"},
          "mark": {"type": "line", "color": "#2962ff", "strokeWidth": 1.2},
          "encoding": {
            "x": {"field": "t", "type": "temporal", "scale": {"type": "utc", "domain": [1701898200000, 1702407857143]}, "axis": null},
            "y": {"field": "up", "type": "quantitative", "scale": {"domain": [26, 42], "range": [321, 74.3], "nice": false, "zero": false}, "axis": null}
          }
        },
        {
          "data": {"name": "bb"},
          "mark": {"type": "line", "color": "#2962ff", "strokeWidth": 1.2},
          "encoding": {
            "x": {"field": "t", "type": "temporal", "scale": {"type": "utc", "domain": [1701898200000, 1702407857143]}, "axis": null},
            "y": {"field": "lo", "type": "quantitative", "scale": {"domain": [26, 42], "range": [321, 74.3], "nice": false, "zero": false}, "axis": null}
          }
        },
        {
          "data": {"name": "bb"},
          "mark": {"type": "line", "color": "#ff6d00", "strokeWidth": 1.2},
          "encoding": {
            "x": {"field": "t", "type": "temporal", "scale": {"type": "utc", "domain": [1701898200000, 1702407857143]}, "axis": null},
            "y": {"field": "mid", "type": "quantitative", "scale": {"domain": [26, 42], "range": [321, 74.3], "nice": false, "zero": false}, "axis": null}
          }
        },
        {
          "data": {"name": "bars"},
          "mark": {"type": "rule", "strokeWidth": 1},
          "encoding": {
            "x": {"field": "t", "type": "temporal", "scale": {"type": "utc", "domain": [1701898200000, 1702407857143]}, "axis": null},
            "y": {"field": "l", "type": "quantitative", "scale": {"domain": [26, 42], "range": [321, 74.3], "nice": false, "zero": false}, "axis": null},
            "y2": {"field": "h"},
            "color": {"condition": {"test": "datum.c >= datum.o", "value": "#26a69a"}, "value": "#ef5350"}
          }
        },
        {
          "data": {"name": "bars"},
          "mark": {"type": "bar", "width": 5},
          "encoding": {
            "x": {"field": "t", "type": "temporal", "scale": {"type": "utc", "domain": [1701898200000, 1702407857143]}, "axis": null},
            "y": {"field": "o", "type": "quantitative", "scale": {"domain": [26, 42], "range": [321, 74.3], "nice": false, "zero": false}, "axis": null},
            "y2": {"field": "c"},
            "color": {"condition": {"test": "datum.c >= datum.o", "value": "#26a69a"}, "value": "#ef5350"}
          }
        }
      ]
    },
    {
      "layer": [
        {
          "mark": {"type": "rect", "color": "#7e57c2", "opacity": 0.1},
          "encoding": {
            "x": {"datum": 1701903085714, "type": "temporal", "scale": {"type": "utc", "domain": [1701898200000, 1702407857143]}, "axis": null},
            "x2": {"datum": 1702407857143},
            "y": {"datum": 70, "type": "quantitative", "scale": {"domain": [30, 70], "range": [454.3, 387.3], "nice": false, "zero": false}, "axis": null},
            "y2": {"datum": 30}
          }
        },
        {
          "data": {"values": [{"q": 80}, {"q": 60}, {"q": 40}]},
          "mark": {"type": "rule", "color": "#f0f3fa", "strokeWidth": 1},
          "encoding": {
            "x": {"datum": 1701903085714, "type": "temporal", "scale": {"type": "utc", "domain": [1701898200000, 1702407857143]}, "axis": null},
            "x2": {"datum": 1702407857143},
            "y": {"field": "q", "type": "quantitative", "scale": {"domain": [30, 70], "range": [454.3, 387.3], "nice": false, "zero": false}, "axis": null}
          }
        },
        {
          "data": {"values": [{"q": 70}, {"q": 30}]},
          "mark": {"type": "rule", "color": "#787b86", "strokeWidth": 1, "strokeDash": [4, 3]},
          "encoding": {
            "x": {"datum": 1701903085714, "type": "temporal", "scale": {"type": "utc", "domain": [1701898200000, 1702407857143]}, "axis": null},
            "x2": {"datum": 1702407857143},
            "y": {"field": "q", "type": "quantitative", "scale": {"domain": [30, 70], "range": [454.3, 387.3], "nice": false, "zero": false}, "axis": null}
          }
        },
        {
          "mark": {"type": "rule", "color": "#787b86", "opacity": 0.5, "strokeWidth": 1, "strokeDash": [4, 3]},
          "encoding": {
            "x": {"datum": 1701903085714, "type": "temporal", "scale": {"type": "utc", "domain": [1701898200000, 1702407857143]}, "axis": null},
            "x2": {"datum": 1702407857143},
            "y": {"datum": 50, "type": "quantitative", "scale": {"domain": [30, 70], "range": [454.3, 387.3], "nice": false, "zero": false}, "axis": null}
          }
        }
      ]
    },
    {
      "layer": [
        {
          "data": {"name": "rsi"},
          "mark": {"type": "area", "fill": {"gradient": "linear", "x1": 0, "y1": 0, "x2": 0, "y2": 1, "stops": [{"offset": 0, "color": "rgba(76,175,80,0.5)"}, {"offset": 1, "color": "rgba(76,175,80,0.02)"}]}},
          "encoding": {
            "x": {"field": "t", "type": "temporal", "scale": {"type": "utc", "domain": [1701898200000, 1702407857143]}, "axis": null},
            "y": {"field": "r", "type": "quantitative", "scale": {"domain": [70, 100], "range": [387.3, 337.05], "clamp": true, "nice": false, "zero": false}, "axis": null},
            "y2": {"datum": 70}
          }
        }
      ]
    },
    {
      "layer": [
        {
          "data": {"name": "rsi"},
          "mark": {"type": "line", "color": "#7e57c2", "strokeWidth": 1.2},
          "encoding": {
            "x": {"field": "t", "type": "temporal", "scale": {"type": "utc", "domain": [1701898200000, 1702407857143]}, "axis": null},
            "y": {"field": "r", "type": "quantitative", "scale": {"domain": [30, 70], "range": [454.3, 387.3], "nice": false, "zero": false}, "axis": null}
          }
        },
        {
          "data": {"name": "rsima"},
          "mark": {"type": "line", "color": "#fce83a", "strokeWidth": 1.2},
          "encoding": {
            "x": {"field": "t", "type": "temporal", "scale": {"type": "utc", "domain": [1701898200000, 1702407857143]}, "axis": null},
            "y": {"field": "m", "type": "quantitative", "scale": {"domain": [30, 70], "range": [454.3, 387.3], "nice": false, "zero": false}, "axis": null}
          }
        }
      ]
    },
    {
      "layer": [
        {
          "data": {"values": [{"s": 23.763}, {"s": 16.694}]},
          "mark": {"type": "rule", "color": "#e0e3eb", "strokeWidth": 1},
          "encoding": {
            "x": {"datum": 1701903085714, "type": "temporal", "scale": {"type": "utc", "domain": [1701898200000, 1702407857143]}, "axis": null},
            "x2": {"datum": 1702448485714},
            "y": {"field": "s", "type": "quantitative", "scale": {"domain": [26, 42], "range": [321, 74.3], "nice": false, "zero": false}, "axis": null}
          }
        },
        {
          "mark": {"type": "rule", "color": "#e0e3eb", "strokeWidth": 1},
          "encoding": {
            "x": {"datum": 1702407857143, "type": "temporal", "scale": {"type": "utc", "domain": [1701898200000, 1702407857143]}, "axis": null},
            "y": {"datum": 45.066, "type": "quantitative", "scale": {"domain": [26, 42], "range": [321, 74.3], "nice": false, "zero": false}, "axis": null},
            "y2": {"datum": 14.91}
          }
        },
        {
          "mark": {"type": "rect", "fill": null, "stroke": "#e0e3eb", "strokeWidth": 1.5},
          "encoding": {
            "x": {"datum": 1701903085714, "type": "temporal", "scale": {"type": "utc", "domain": [1701898200000, 1702407857143]}, "axis": null},
            "x2": {"datum": 1702448485714},
            "y": {"datum": 45.066, "type": "quantitative", "scale": {"domain": [26, 42], "range": [321, 74.3], "nice": false, "zero": false}, "axis": null},
            "y2": {"datum": 14.91}
          }
        },
        {
          "data": {"name": "pricegrid"},
          "mark": {"type": "text", "align": "left", "baseline": "middle", "font": "Liberation Sans", "fontSize": 12, "color": "#131722"},
          "encoding": {
            "x": {"datum": 1702410942857, "type": "temporal", "scale": {"type": "utc", "domain": [1701898200000, 1702407857143]}, "axis": null},
            "y": {"field": "p", "type": "quantitative", "scale": {"domain": [26, 42], "range": [321, 74.3], "nice": false, "zero": false}, "axis": null},
            "text": {"field": "p", "type": "quantitative", "format": ".7f"}
          }
        },
        {
          "data": {"name": "ticks"},
          "mark": {"type": "text", "align": "center", "baseline": "middle", "font": "Liberation Sans", "fontSize": 12, "color": "#131722"},
          "encoding": {
            "x": {"field": "g", "type": "temporal", "scale": {"type": "utc", "domain": [1701898200000, 1702407857143]}, "axis": null},
            "y": {"datum": 15.786, "type": "quantitative", "scale": {"domain": [26, 42], "range": [321, 74.3], "nice": false, "zero": false}, "axis": null},
            "text": {"field": "lab", "type": "nominal"}
          }
        },
        {
          "mark": {"type": "rect", "fill": "#ffffff", "stroke": "#e0e3eb", "strokeWidth": 1, "cornerRadius": 4},
          "encoding": {
            "x": {"datum": 1702409400000, "type": "temporal", "scale": {"type": "utc", "domain": [1701898200000, 1702407857143]}, "axis": null},
            "x2": {"datum": 1702446428571},
            "y": {"datum": 44.807, "type": "quantitative", "scale": {"domain": [26, 42], "range": [321, 74.3], "nice": false, "zero": false}, "axis": null},
            "y2": {"datum": 43.14}
          }
        },
        {
          "mark": {"type": "text", "text": "USD", "align": "left", "baseline": "middle", "font": "Liberation Sans", "fontSize": 12, "color": "#131722"},
          "encoding": {
            "x": {"datum": 1702414028571, "type": "temporal", "scale": {"type": "utc", "domain": [1701898200000, 1702407857143]}, "axis": null},
            "y": {"datum": 43.912, "type": "quantitative", "scale": {"domain": [26, 42], "range": [321, 74.3], "nice": false, "zero": false}, "axis": null}
          }
        },
        {
          "mark": {"type": "rect", "color": "#ef5350"},
          "encoding": {
            "x": {"datum": 1702407342857, "type": "temporal", "scale": {"type": "utc", "domain": [1701898200000, 1702407857143]}, "axis": null},
            "x2": {"datum": 1702445914286},
            "y": {"datum": 40.656, "type": "quantitative", "scale": {"domain": [26, 42], "range": [321, 74.3], "nice": false, "zero": false}, "axis": null},
            "y2": {"datum": 38.646}
          }
        },
        {
          "mark": {"type": "rect", "color": "#ff6d00"},
          "encoding": {
            "x": {"datum": 1702407342857, "type": "temporal", "scale": {"type": "utc", "domain": [1701898200000, 1702407857143]}, "axis": null},
            "x2": {"datum": 1702445914286},
            "y": {"datum": 38.646, "type": "quantitative", "scale": {"domain": [26, 42], "range": [321, 74.3], "nice": false, "zero": false}, "axis": null},
            "y2": {"datum": 37.589}
          }
        },
        {
          "mark": {"type": "rect", "color": "#2962ff"},
          "encoding": {
            "x": {"datum": 1702407342857, "type": "temporal", "scale": {"type": "utc", "domain": [1701898200000, 1702407857143]}, "axis": null},
            "x2": {"datum": 1702445914286},
            "y": {"datum": 35.903, "type": "quantitative", "scale": {"domain": [26, 42], "range": [321, 74.3], "nice": false, "zero": false}, "axis": null},
            "y2": {"datum": 34.865}
          }
        },
        {
          "mark": {"type": "text", "text": "40.1367133", "dy": 1, "align": "left", "baseline": "middle", "font": "Liberation Sans", "fontSize": 12, "color": "#ffffff"},
          "encoding": {
            "x": {"datum": 1702411457143, "type": "temporal", "scale": {"type": "utc", "domain": [1701898200000, 1702407857143]}, "axis": null},
            "y": {"datum": 40.1367133, "type": "quantitative", "scale": {"domain": [26, 42], "range": [321, 74.3], "nice": false, "zero": false}, "axis": null}
          }
        },
        {
          "mark": {"type": "text", "text": "04:22", "dy": 14.3, "align": "left", "baseline": "middle", "font": "Liberation Sans", "fontSize": 12, "color": "#ffffff"},
          "encoding": {
            "x": {"datum": 1702411457143, "type": "temporal", "scale": {"type": "utc", "domain": [1701898200000, 1702407857143]}, "axis": null},
            "y": {"datum": 40.1367133, "type": "quantitative", "scale": {"domain": [26, 42], "range": [321, 74.3], "nice": false, "zero": false}, "axis": null}
          }
        },
        {
          "mark": {"type": "text", "text": "39.5055172", "dy": 21.6, "align": "left", "baseline": "middle", "font": "Liberation Sans", "fontSize": 12, "color": "#ffffff"},
          "encoding": {
            "x": {"datum": 1702411457143, "type": "temporal", "scale": {"type": "utc", "domain": [1701898200000, 1702407857143]}, "axis": null},
            "y": {"datum": 39.5055172, "type": "quantitative", "scale": {"domain": [26, 42], "range": [321, 74.3], "nice": false, "zero": false}, "axis": null}
          }
        },
        {
          "mark": {"type": "text", "text": "35.4080335", "dy": 0.8, "align": "left", "baseline": "middle", "font": "Liberation Sans", "fontSize": 12, "color": "#ffffff"},
          "encoding": {
            "x": {"datum": 1702411457143, "type": "temporal", "scale": {"type": "utc", "domain": [1701898200000, 1702407857143]}, "axis": null},
            "y": {"datum": 35.4080335, "type": "quantitative", "scale": {"domain": [26, 42], "range": [321, 74.3], "nice": false, "zero": false}, "axis": null}
          }
        },
        {
          "mark": {"type": "text", "text": "reflectordayo published on TradingView.com, Dec 12, 2023 11:55 UTC", "align": "left", "baseline": "middle", "font": "Roboto", "fontSize": 12, "color": "#131722"},
          "encoding": {
            "x": {"datum": 1701903342857, "type": "temporal", "scale": {"type": "utc", "domain": [1701898200000, 1702407857143]}, "axis": null},
            "y": {"datum": 45.812, "type": "quantitative", "scale": {"domain": [26, 42], "range": [321, 74.3], "nice": false, "zero": false}, "axis": null}
          }
        },
        {
          "mark": {"type": "text", "text": "AVAX / US Dollar, 1h, BINANCE", "align": "left", "baseline": "middle", "font": "Roboto", "fontSize": 11.5, "color": "#131722"},
          "encoding": {
            "x": {"datum": 1701907971429, "type": "temporal", "scale": {"type": "utc", "domain": [1701898200000, 1702407857143]}, "axis": null},
            "y": {"datum": 44.06, "type": "quantitative", "scale": {"domain": [26, 42], "range": [321, 74.3], "nice": false, "zero": false}, "axis": null}
          }
        },
        {
          "mark": {"type": "text", "text": "O", "align": "left", "baseline": "middle", "font": "Roboto", "fontSize": 11.5, "color": "#131722"},
          "encoding": {
            "x": {"datum": 1701994371429, "type": "temporal", "scale": {"type": "utc", "domain": [1701898200000, 1702407857143]}, "axis": null},
            "y": {"datum": 44.06, "type": "quantitative", "scale": {"domain": [26, 42], "range": [321, 74.3], "nice": false, "zero": false}, "axis": null}
          }
        },
        {
          "mark": {"type": "text", "text": "40.6087223", "align": "left", "baseline": "middle", "font": "Roboto", "fontSize": 11.5, "color": "#ef5350"},
          "encoding": {
            "x": {"datum": 1701997971429, "type": "temporal", "scale": {"type": "utc", "domain": [1701898200000, 1702407857143]}, "axis": null},
            "y": {"datum": 44.06, "type": "quantitative", "scale": {"domain": [26, 42], "range": [321, 74.3], "nice": false, "zero": false}, "axis": null}
          }
        },
        {
          "mark": {"type": "text", "text": "H", "align": "left", "baseline": "middle", "font": "Roboto", "fontSize": 11.5, "color": "#131722"},
          "encoding": {
            "x": {"datum": 1702033457143, "type": "temporal", "scale": {"type": "utc", "domain": [1701898200000, 1702407857143]}, "axis": null},
            "y": {"datum": 44.06, "type": "quantitative", "scale": {"domain": [26, 42], "range": [321, 74.3], "nice": false, "zero": false}, "axis": null}
          }
        },
        {
          "mark": {"type": "text", "text": "40.6679559", "align": "left", "baseline": "middle", "font": "Roboto", "fontSize": 11.5, "color": "#ef5350"},
          "encoding": {
            "x": {"datum": 1702037571429, "type": "temporal", "scale": {"type": "utc", "domain": [1701898200000, 1702407857143]}, "axis": null},
            "y": {"datum": 44.06, "type": "quantitative", "scale": {"domain": [26, 42], "range": [321, 74.3], "nice": false, "zero": false}, "axis": null}
          }
        },
        {
          "mark": {"type": "text", "text": "L", "align": "left", "baseline": "middle", "font": "Roboto", "fontSize": 11.5, "color": "#131722"},
          "encoding": {
            "x": {"datum": 1702072542857, "type": "temporal", "scale": {"type": "utc", "domain": [1701898200000, 1702407857143]}, "axis": null},
            "y": {"datum": 44.06, "type": "quantitative", "scale": {"domain": [26, 42], "range": [321, 74.3], "nice": false, "zero": false}, "axis": null}
          }
        },
        {
          "mark": {"type": "text", "text": "40.1053071", "align": "left", "baseline": "middle", "font": "Roboto", "fontSize": 11.5, "color": "#ef5350"},
          "encoding": {
            "x": {"datum": 1702075628571, "type": "temporal", "scale": {"type": "utc", "domain": [1701898200000, 1702407857143]}, "axis": null},
            "y": {"datum": 44.06, "type": "quantitative", "scale": {"domain": [26, 42], "range": [321, 74.3], "nice": false, "zero": false}, "axis": null}
          }
        },
        {
          "mark": {"type": "text", "text": "C", "align": "left", "baseline": "middle", "font": "Roboto", "fontSize": 11.5, "color": "#131722"},
          "encoding": {
            "x": {"datum": 1702111628571, "type": "temporal", "scale": {"type": "utc", "domain": [1701898200000, 1702407857143]}, "axis": null},
            "y": {"datum": 44.06, "type": "quantitative", "scale": {"domain": [26, 42], "range": [321, 74.3], "nice": false, "zero": false}, "axis": null}
          }
        },
        {
          "mark": {"type": "text", "text": "40.1367133", "align": "left", "baseline": "middle", "font": "Roboto", "fontSize": 11.5, "color": "#ef5350"},
          "encoding": {
            "x": {"datum": 1702115228571, "type": "temporal", "scale": {"type": "utc", "domain": [1701898200000, 1702407857143]}, "axis": null},
            "y": {"datum": 44.06, "type": "quantitative", "scale": {"domain": [26, 42], "range": [321, 74.3], "nice": false, "zero": false}, "axis": null}
          }
        },
        {
          "mark": {"type": "text", "text": "−0.4646302 (−1.14%)", "align": "left", "baseline": "middle", "font": "Roboto", "fontSize": 11.5, "color": "#ef5350"},
          "encoding": {
            "x": {"datum": 1702150714286, "type": "temporal", "scale": {"type": "utc", "domain": [1701898200000, 1702407857143]}, "axis": null},
            "y": {"datum": 44.06, "type": "quantitative", "scale": {"domain": [26, 42], "range": [321, 74.3], "nice": false, "zero": false}, "axis": null}
          }
        },
        {
          "mark": {"type": "text", "text": "Vol · AVAX", "align": "left", "baseline": "middle", "font": "Roboto", "fontSize": 11.5, "color": "#131722"},
          "encoding": {
            "x": {"datum": 1701907971429, "type": "temporal", "scale": {"type": "utc", "domain": [1701898200000, 1702407857143]}, "axis": null},
            "y": {"datum": 42.89, "type": "quantitative", "scale": {"domain": [26, 42], "range": [321, 74.3], "nice": false, "zero": false}, "axis": null}
          }
        },
        {
          "mark": {"type": "text", "text": "14.546K", "align": "left", "baseline": "middle", "font": "Roboto", "fontSize": 11.5, "color": "#ef5350"},
          "encoding": {
            "x": {"datum": 1701939342857, "type": "temporal", "scale": {"type": "utc", "domain": [1701898200000, 1702407857143]}, "axis": null},
            "y": {"datum": 42.89, "type": "quantitative", "scale": {"domain": [26, 42], "range": [321, 74.3], "nice": false, "zero": false}, "axis": null}
          }
        },
        {
          "mark": {"type": "text", "text": "BB (20, SMA, close, 2, 0)", "align": "left", "baseline": "middle", "font": "Roboto", "fontSize": 11.5, "color": "#131722"},
          "encoding": {
            "x": {"datum": 1701907971429, "type": "temporal", "scale": {"type": "utc", "domain": [1701898200000, 1702407857143]}, "axis": null},
            "y": {"datum": 41.85, "type": "quantitative", "scale": {"domain": [26, 42], "range": [321, 74.3], "nice": false, "zero": false}, "axis": null}
          }
        },
        {
          "mark": {"type": "text", "text": "39.5055172", "align": "left", "baseline": "middle", "font": "Roboto", "fontSize": 11.5, "color": "#ff6d00"},
          "encoding": {
            "x": {"datum": 1701979302857, "type": "temporal", "scale": {"type": "utc", "domain": [1701898200000, 1702407857143]}, "axis": null},
            "y": {"datum": 41.85, "type": "quantitative", "scale": {"domain": [26, 42], "range": [321, 74.3], "nice": false, "zero": false}, "axis": null}
          }
        },
        {
          "mark": {"type": "text", "text": "43.6030009", "align": "left", "baseline": "middle", "font": "Roboto", "fontSize": 11.5, "color": "#2962ff"},
          "encoding": {
            "x": {"datum": 1702014377143, "type": "temporal", "scale": {"type": "utc", "domain": [1701898200000, 1702407857143]}, "axis": null},
            "y": {"datum": 41.85, "type": "quantitative", "scale": {"domain": [26, 42], "range": [321, 74.3], "nice": false, "zero": false}, "axis": null}
          }
        },
        {
          "mark": {"type": "text", "text": "35.4080335", "align": "left", "baseline": "middle", "font": "Roboto", "fontSize": 11.5, "color": "#2962ff"},
          "encoding": {
            "x": {"datum": 1702049245714, "type": "temporal", "scale": {"type": "utc", "domain": [1701898200000, 1702407857143]}, "axis": null},
            "y": {"datum": 41.85, "type": "quantitative", "scale": {"domain": [26, 42], "range": [321, 74.3], "nice": false, "zero": false}, "axis": null}
          }
        },
        {
          "mark": {"type": "text", "text": "TV", "align": "left", "baseline": "middle", "font": "DejaVu Sans", "fontWeight": "bold", "fontSize": 13, "color": "#131722"},
          "encoding": {
            "x": {"datum": 1701903342857, "type": "temporal", "scale": {"type": "utc", "domain": [1701898200000, 1702407857143]}, "axis": null},
            "y": {"datum": 13.743, "type": "quantitative", "scale": {"domain": [26, 42], "range": [321, 74.3], "nice": false, "zero": false}, "axis": null}
          }
        },
        {
          "mark": {"type": "text", "text": "TradingView", "align": "left", "baseline": "middle", "font": "Roboto", "fontSize": 13, "color": "#131722"},
          "encoding": {
            "x": {"datum": 1701915377143, "type": "temporal", "scale": {"type": "utc", "domain": [1701898200000, 1702407857143]}, "axis": null},
            "y": {"datum": 13.743, "type": "quantitative", "scale": {"domain": [26, 42], "range": [321, 74.3], "nice": false, "zero": false}, "axis": null}
          }
        }
      ]
    },
    {
      "layer": [
        {
          "mark": {"type": "rect", "color": "#ffeb3b"},
          "encoding": {
            "x": {"datum": 1702407342857, "type": "temporal", "scale": {"type": "utc", "domain": [1701898200000, 1702407857143]}, "axis": null},
            "x2": {"datum": 1702429302857},
            "y": {"datum": 72.39, "type": "quantitative", "scale": {"domain": [30, 70], "range": [454.3, 387.3], "nice": false, "zero": false}, "axis": null},
            "y2": {"datum": 63.01}
          }
        },
        {
          "mark": {"type": "rect", "color": "#7e57c2"},
          "encoding": {
            "x": {"datum": 1702407342857, "type": "temporal", "scale": {"type": "utc", "domain": [1701898200000, 1702407857143]}, "axis": null},
            "x2": {"datum": 1702429302857},
            "y": {"datum": 62.0, "type": "quantitative", "scale": {"domain": [30, 70], "range": [454.3, 387.3], "nice": false, "zero": false}, "axis": null},
            "y2": {"datum": 52.45}
          }
        },
        {
          "mark": {"type": "text", "text": "74.09", "dy": -5.4, "align": "left", "baseline": "middle", "font": "Liberation Sans", "fontSize": 12, "color": "#131722"},
          "encoding": {
            "x": {"datum": 1702411457143, "type": "temporal", "scale": {"type": "utc", "domain": [1701898200000, 1702407857143]}, "axis": null},
            "y": {"datum": 74.09, "type": "quantitative", "scale": {"domain": [30, 70], "range": [454.3, 387.3], "nice": false, "zero": false}, "axis": null}
          }
        },
        {
          "mark": {"type": "text", "text": "65.78", "dy": -3.4, "align": "left", "baseline": "middle", "font": "Liberation Sans", "fontSize": 12, "color": "#131722"},
          "encoding": {
            "x": {"datum": 1702411457143, "type": "temporal", "scale": {"type": "utc", "domain": [1701898200000, 1702407857143]}, "axis": null},
            "y": {"datum": 65.78, "type": "quantitative", "scale": {"domain": [30, 70], "range": [454.3, 387.3], "nice": false, "zero": false}, "axis": null}
          }
        },
        {
          "mark": {"type": "text", "text": "57.65", "dy": 0.7, "align": "left", "baseline": "middle", "font": "Liberation Sans", "fontSize": 12, "color": "#ffffff"},
          "encoding": {
            "x": {"datum": 1702411457143, "type": "temporal", "scale": {"type": "utc", "domain": [1701898200000, 1702407857143]}, "axis": null},
            "y": {"datum": 57.65, "type": "quantitative", "scale": {"domain": [30, 70], "range": [454.3, 387.3], "nice": false, "zero": false}, "axis": null}
          }
        },
        {
          "mark": {"type": "text", "text": "48.15", "dy": 0.3, "align": "left", "baseline": "middle", "font": "Liberation Sans", "fontSize": 11.5, "color": "#131722"},
          "encoding": {
            "x": {"datum": 1702411457143, "type": "temporal", "scale": {"type": "utc", "domain": [1701898200000, 1702407857143]}, "axis": null},
            "y": {"datum": 48.15, "type": "quantitative", "scale": {"domain": [30, 70], "range": [454.3, 387.3], "nice": false, "zero": false}, "axis": null}
          }
        },
        {
          "mark": {"type": "text", "text": "40.00", "dy": 0.5, "align": "left", "baseline": "middle", "font": "Liberation Sans", "fontSize": 11.5, "color": "#131722"},
          "encoding": {
            "x": {"datum": 1702411457143, "type": "temporal", "scale": {"type": "utc", "domain": [1701898200000, 1702407857143]}, "axis": null},
            "y": {"datum": 40, "type": "quantitative", "scale": {"domain": [30, 70], "range": [454.3, 387.3], "nice": false, "zero": false}, "axis": null}
          }
        },
        {
          "mark": {"type": "text", "text": "RSI (14, close, SMA, 14, 2)", "align": "left", "baseline": "middle", "font": "Roboto", "fontSize": 11.5, "color": "#131722"},
          "encoding": {
            "x": {"datum": 1701907971429, "type": "temporal", "scale": {"type": "utc", "domain": [1701898200000, 1702407857143]}, "axis": null},
            "y": {"datum": 81.343, "type": "quantitative", "scale": {"domain": [30, 70], "range": [454.3, 387.3], "nice": false, "zero": false}, "axis": null}
          }
        },
        {
          "mark": {"type": "text", "text": "57.65", "align": "left", "baseline": "middle", "font": "Roboto", "fontSize": 11.5, "color": "#7e57c2"},
          "encoding": {
            "x": {"datum": 1701983571429, "type": "temporal", "scale": {"type": "utc", "domain": [1701898200000, 1702407857143]}, "axis": null},
            "y": {"datum": 81.343, "type": "quantitative", "scale": {"domain": [30, 70], "range": [454.3, 387.3], "nice": false, "zero": false}, "axis": null}
          }
        },
        {
          "mark": {"type": "text", "text": "65.78", "align": "left", "baseline": "middle", "font": "Roboto", "fontSize": 11.5, "color": "#f5dc1e"},
          "encoding": {
            "x": {"datum": 1702002445714, "type": "temporal", "scale": {"type": "utc", "domain": [1701898200000, 1702407857143]}, "axis": null},
            "y": {"datum": 81.343, "type": "quantitative", "scale": {"domain": [30, 70], "range": [454.3, 387.3], "nice": false, "zero": false}, "axis": null}
          }
        },
        {
          "mark": {"type": "text", "text": "∅  ∅  ∅  ∅  ∅  ∅", "align": "left", "baseline": "middle", "font": "Roboto", "fontSize": 11.5, "color": "#131722"},
          "encoding": {
            "x": {"datum": 1702021988571, "type": "temporal", "scale": {"type": "utc", "domain": [1701898200000, 1702407857143]}, "axis": null},
            "y": {"datum": 81.343, "type": "quantitative", "scale": {"domain": [30, 70], "range": [454.3, 387.3], "nice": false, "zero": false}, "axis": null}
          }
        }
      ]
    },
    {
      "layer": [
        {
          "mark": {"type": "rect", "color": "#ef5350"},
          "encoding": {
            "x": {"datum": 1702407342857, "type": "temporal", "scale": {"type": "utc", "domain": [1701898200000, 1702407857143]}, "axis": null},
            "x2": {"datum": 1702435988571},
            "y": {"datum": 24.39, "type": "quantitative", "scale": {"domain": [0, 100], "range": [352.3, 281.38], "nice": false}, "axis": null},
            "y2": {"datum": 1.83}
          }
        },
        {
          "mark": {"type": "text", "text": "14.546K", "dy": 1, "align": "left", "baseline": "middle", "font": "Liberation Sans", "fontSize": 12, "color": "#ffffff"},
          "encoding": {
            "x": {"datum": 1702411457143, "type": "temporal", "scale": {"type": "utc", "domain": [1701898200000, 1702407857143]}, "axis": null},
            "y": {"datum": 14.546, "type": "quantitative", "scale": {"domain": [0, 100], "range": [352.3, 281.38], "nice": false}, "axis": null}
          }
        }
      ]
    }
  ],
  "resolve": {"scale": {"y": "independent"}}
}
